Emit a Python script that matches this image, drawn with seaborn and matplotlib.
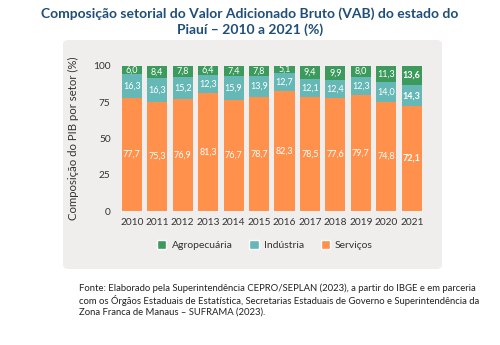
import matplotlib
matplotlib.use("Agg")
import matplotlib.pyplot as plt
from matplotlib.patches import FancyBboxPatch, Patch
import seaborn as sns
import numpy as np
import pandas as pd

years = ["2010", "2011", "2012", "2013", "2014", "2015",
         "2016", "2017", "2018", "2019", "2020", "2021"]
agropecuaria = [6.0, 8.4, 7.8, 6.4, 7.4, 7.8, 5.1, 9.4, 9.9, 8.0, 11.3, 13.6]
industria = [16.3, 16.3, 15.2, 12.3, 15.9, 13.9, 12.7, 12.1, 12.4, 12.3, 14.0, 14.3]
servicos = [77.7, 75.3, 76.9, 81.3, 76.7, 78.7, 82.3, 78.5, 77.6, 79.7, 74.8, 72.1]

c_agro = "#3d9a5d"
c_ind = "#66b8b6"
c_serv = "#ff914d"
panel_bg = "#efeeec"
text_dark = "#333333"

sns.set_theme(style="white")
plt.rcParams["font.family"] = ["Lato", "DejaVu Sans"]

df = pd.DataFrame({"ano": years, "agro": agropecuaria,
                   "ind": industria, "serv": servicos})
df["top_serv"] = df["serv"]
df["top_ind"] = df["serv"] + df["ind"]
df["top_agro"] = df["top_ind"] + df["agro"]

fig = plt.figure(figsize=(5.0, 3.45), dpi=100)
fig.patch.set_facecolor("white")

# rounded grey panel behind the chart
panel = FancyBboxPatch((63 / 500, 1 - 269 / 345), (442 - 63) / 500, (269 - 40) / 345,
                       boxstyle="round,pad=0,rounding_size=0.012",
                       transform=fig.transFigure, facecolor=panel_bg,
                       edgecolor="none", zorder=-5)
fig.patches.append(panel)

ax = fig.add_axes([0.238, 0.3884, 0.611, 0.4212])
ax.set_zorder(2)
ax.set_facecolor("none")

# stacked bars drawn back to front from cumulative totals
width = 0.79
for col, colour, z in [("top_agro", c_agro, 2), ("top_ind", c_ind, 3), ("top_serv", c_serv, 4)]:
    sns.barplot(data=df, x="ano", y=col, color=colour, width=width,
                saturation=1, linewidth=0, ax=ax, zorder=z)

for i in range(len(years)):
    weight = "bold" if i == len(years) - 1 else "normal"
    kw = dict(ha="center", va="center", color="white", fontsize=6.5,
              fontweight=weight, zorder=6)
    ax.text(i, df["top_ind"][i] + df["agro"][i] / 2, f"{agropecuaria[i]:.1f}".replace(".", ","), **kw)
    ax.text(i, df["top_serv"][i] + df["ind"][i] / 2, f"{industria[i]:.1f}".replace(".", ","), **kw)
    ax.text(i, servicos[i] / 2, f"{servicos[i]:.1f}".replace(".", ","), **kw)

ax.set_xlim(-0.5, 11.5)
ax.set_ylim(0, 100)
ax.set_yticks([0, 25, 50, 75, 100])
ax.set_xlabel("")
ax.set_ylabel("Composição do PIB por setor (%)", fontsize=8.2, color=text_dark, labelpad=10)
ax.tick_params(axis="both", length=0, labelsize=7.3, colors=text_dark)
ax.tick_params(axis="x", pad=5)
ax.tick_params(axis="y", pad=6)
for s in ax.spines.values():
    s.set_visible(False)

handles = [Patch(facecolor=c_agro, label="Agropecuária"),
           Patch(facecolor=c_ind, label="Indústria"),
           Patch(facecolor=c_serv, label="Serviços")]
fig.legend(handles=handles, loc="center", bbox_to_anchor=(0.53, 1 - 245 / 345),
           ncol=3, frameon=False, fontsize=7.5, handlelength=0.9, handleheight=0.9,
           handletextpad=0.5, columnspacing=1.6, labelcolor=text_dark)

fig.text(0.5, 1 - 14 / 345, "Composição setorial do Valor Adicionado Bruto (VAB) do estado do",
         ha="center", va="center", fontsize=10, fontweight="bold", color="#1f4e79")
fig.text(0.5, 1 - 30 / 345, "Piauí – 2010 a 2021 (%)",
         ha="center", va="center", fontsize=10, fontweight="bold", color="#1f4e79")

fonte = ("Fonte: Elaborado pela Superintendência CEPRO/SEPLAN (2023), a partir do IBGE e em parceria\n"
         "com os Órgãos Estaduais de Estatística, Secretarias Estaduais de Governo e Superintendência da\n"
         "Zona Franca de Manaus – SUFRAMA (2023).")
fig.text(79 / 500, 1 - 283 / 345, fonte, ha="left", va="top", fontsize=6.8,
         color="#222222", linespacing=1.25)

fig.savefig("out.png", dpi=100, facecolor="white")
